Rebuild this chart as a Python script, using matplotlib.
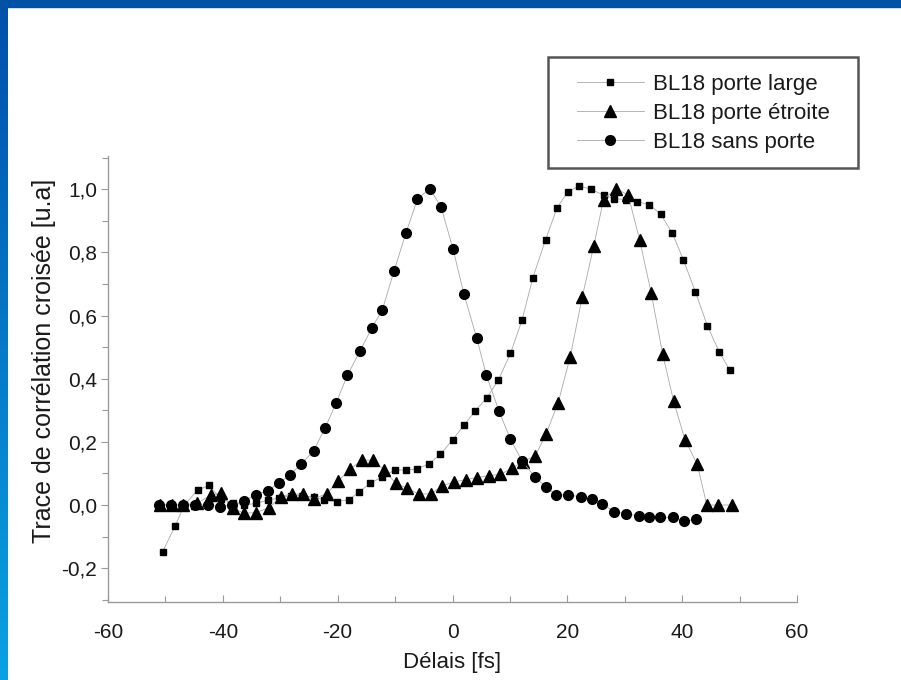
import numpy as np
import matplotlib
matplotlib.use("Agg")
import matplotlib.pyplot as plt
from matplotlib import font_manager
from matplotlib.ticker import MultipleLocator, FuncFormatter
from matplotlib.patches import Rectangle

plt.rcParams['font.family'] = ['Liberation Sans', 'DejaVu Sans']
plt.rcParams['axes.unicode_minus'] = False

# narrow font for the horizontal texts if it is there
installed = {f.name for f in font_manager.fontManager.ttflist}
if 'Liberation Sans Narrow' in installed:
    narrow = ['Liberation Sans Narrow', 'DejaVu Sans']
    tick_size = 17
else:
    narrow = ['Liberation Sans', 'DejaVu Sans']
    tick_size = 15

# BL18 porte large (squares)
x_large = [-50.5, -48.3, -46.7, -44.4, -42.4, -40.3, -38.3, -36.3, -34.3, -32.2,
           -30.2, -28.2, -26.2, -24.2, -22.3, -20.2, -18.0, -16.3, -14.3, -12.2,
           -10.0, -8.1, -6.2, -4.1, -2.1, 0.0, 2.0, 4.0, 6.0, 8.0,
           10.1, 12.1, 14.0, 16.2, 18.2, 20.1, 22.1, 24.2, 26.3, 28.2,
           30.2, 32.2, 34.3, 36.3, 38.3, 40.2, 42.3, 44.4, 46.5, 48.3]
y_large = [-0.148, -0.066, 0.0, 0.047, 0.062, 0.018, 0.008, 0.0, 0.005, 0.015,
           0.022, 0.03, 0.03, 0.025, 0.016, 0.011, 0.017, 0.041, 0.069, 0.09,
           0.111, 0.111, 0.114, 0.13, 0.161, 0.206, 0.253, 0.299, 0.34, 0.396,
           0.48, 0.585, 0.72, 0.839, 0.941, 0.992, 1.01, 0.999, 0.981, 0.97,
           0.967, 0.96, 0.951, 0.92, 0.86, 0.777, 0.675, 0.567, 0.483, 0.427]

# BL18 porte étroite (triangles)
x_etroite = [-50.9, -48.9, -46.9, -44.5, -42.1, -40.3, -38.3, -36.3, -34.2, -31.9,
             -29.9, -28.0, -26.1, -24.1, -21.9, -19.9, -17.9, -15.8, -13.8, -11.9,
             -9.9, -7.9, -5.9, -3.8, -1.8, 0.2, 2.3, 4.3, 6.3, 8.3,
             10.4, 12.2, 14.4, 16.3, 18.4, 20.5, 22.6, 24.6, 26.3, 28.5,
             30.6, 32.6, 34.6, 36.6, 38.5, 40.5, 42.6, 44.3, 46.3, 48.6]
y_etroite = [0.0, 0.0, 0.0, 0.005, 0.032, 0.037, -0.01, -0.026, -0.024, -0.008,
             0.027, 0.035, 0.034, 0.02, 0.036, 0.076, 0.113, 0.142, 0.142, 0.111,
             0.069, 0.053, 0.035, 0.035, 0.06, 0.073, 0.08, 0.087, 0.093, 0.097,
             0.116, 0.137, 0.155, 0.225, 0.324, 0.469, 0.659, 0.82, 0.967, 1.002,
             0.981, 0.839, 0.672, 0.478, 0.33, 0.206, 0.13, 0.0, 0.0, 0.0]

# BL18 sans porte (circles)
x_sans = [-51.1, -49.1, -47.0, -44.8, -42.5, -40.5, -38.4, -36.3, -34.3, -32.2,
          -30.2, -28.3, -26.3, -24.2, -22.2, -20.3, -18.3, -16.1, -14.0, -12.2,
          -10.2, -8.1, -6.1, -4.0, -2.0, 0.1, 2.0, 4.2, 5.9, 8.1,
          10.1, 12.1, 14.3, 16.2, 18.1, 20.1, 22.3, 24.3, 26.1, 28.2,
          30.3, 32.4, 34.3, 36.2, 38.4, 40.4, 42.4]
y_sans = [0.0, 0.0, 0.0, 0.0, 0.0, -0.005, 0.0, 0.012, 0.032, 0.046,
          0.07, 0.096, 0.13, 0.172, 0.243, 0.322, 0.411, 0.488, 0.562, 0.619,
          0.74, 0.862, 0.968, 1.002, 0.944, 0.81, 0.667, 0.53, 0.411, 0.297,
          0.208, 0.14, 0.09, 0.058, 0.032, 0.032, 0.026, 0.018, 0.003, -0.021,
          -0.028, -0.034, -0.039, -0.039, -0.039, -0.051, -0.045]

labels = ["BL18 porte large", "BL18 porte étroite", "BL18 sans porte"]

W, H = 901, 680
fig = plt.figure(figsize=(W / 100, H / 100), dpi=100)
fig.patch.set_facecolor("white")

# slide frame: top bar and left gradient bar
grad = fig.add_axes([0, 0, 8 / W, 1])
grad.imshow(np.linspace(0, 1, 256).reshape(-1, 1), aspect="auto",
            cmap=matplotlib.colors.LinearSegmentedColormap.from_list("b", ["#0050a8", "#0aa2e2"]),
            extent=[0, 1, 1, 0])
grad.axis("off")
fig.patches.append(Rectangle((0, 1 - 7 / H), 1, 7 / H, transform=fig.transFigure,
                             color="#0052a6", zorder=5))

ax = fig.add_axes([108 / W, 78 / H, 689 / W, 446 / H])
line_kw = dict(color="#a8a8a8", lw=0.6, markeredgecolor="black", markerfacecolor="black")
h1, = ax.plot(x_large, y_large, marker="s", ms=4.8, **line_kw)
h2, = ax.plot(x_etroite, y_etroite, marker="^", ms=8, **line_kw)
h3, = ax.plot(x_sans, y_sans, marker="o", ms=7, **line_kw)

ax.set_xlim(-60, 60)
ax.set_ylim(-0.307, 1.105)
ax.xaxis.set_major_locator(MultipleLocator(20))
ax.xaxis.set_minor_locator(MultipleLocator(10))
ax.yaxis.set_major_locator(MultipleLocator(0.2))
ax.yaxis.set_minor_locator(MultipleLocator(0.1))
ax.yaxis.set_major_formatter(FuncFormatter(lambda v, p: f"{v:.1f}".replace(".", ",").replace("-0,0", "0,0")))
ax.xaxis.set_major_formatter(FuncFormatter(lambda v, p: f"{v:.0f}"))

for s in ["top", "right"]:
    ax.spines[s].set_visible(False)
for s in ["left", "bottom"]:
    ax.spines[s].set_color("#9a9a9a")
    ax.spines[s].set_linewidth(1.0)
ax.tick_params(which="both", colors="#9a9a9a", labelcolor="#1a1a1a", width=0.8)
ax.tick_params(which="major", length=5)
ax.tick_params(which="minor", length=4)
ax.tick_params(axis="x", which="both", direction="in", pad=15)
ax.tick_params(axis="y", pad=3)
for t in ax.get_xticklabels() + ax.get_yticklabels():
    t.set_family(narrow)
    t.set_fontsize(tick_size)

ax.set_xlabel("Délais [fs]", fontsize=tick_size + 1, color="#1a1a1a", family=narrow, labelpad=7)
ax.set_ylabel("Trace de corrélation croisée [u.a]", fontsize=18, color="#1a1a1a")
ax.yaxis.set_label_coords(-0.075, 0.54)

# legend box drawn on its own so the entries can sit where they do in the source
fig.patches.append(Rectangle((548 / W, 1 - 168 / H), 310 / W, 111 / H, transform=fig.transFigure,
                             facecolor="white", edgecolor="#555555", lw=1.8, zorder=9))
leg = fig.legend([h1, h2, h3], labels, loc="upper left",
                 bbox_to_anchor=(577 / W, 1 - 74 / H),
                 fontsize=16, frameon=False, handlelength=3.0, handletextpad=0.4,
                 borderpad=0, labelspacing=0.36, borderaxespad=0)
leg.set_zorder(10)
for t in leg.get_texts():
    t.set_color("#1a1a1a")

fig.savefig("out.png", dpi=100)
